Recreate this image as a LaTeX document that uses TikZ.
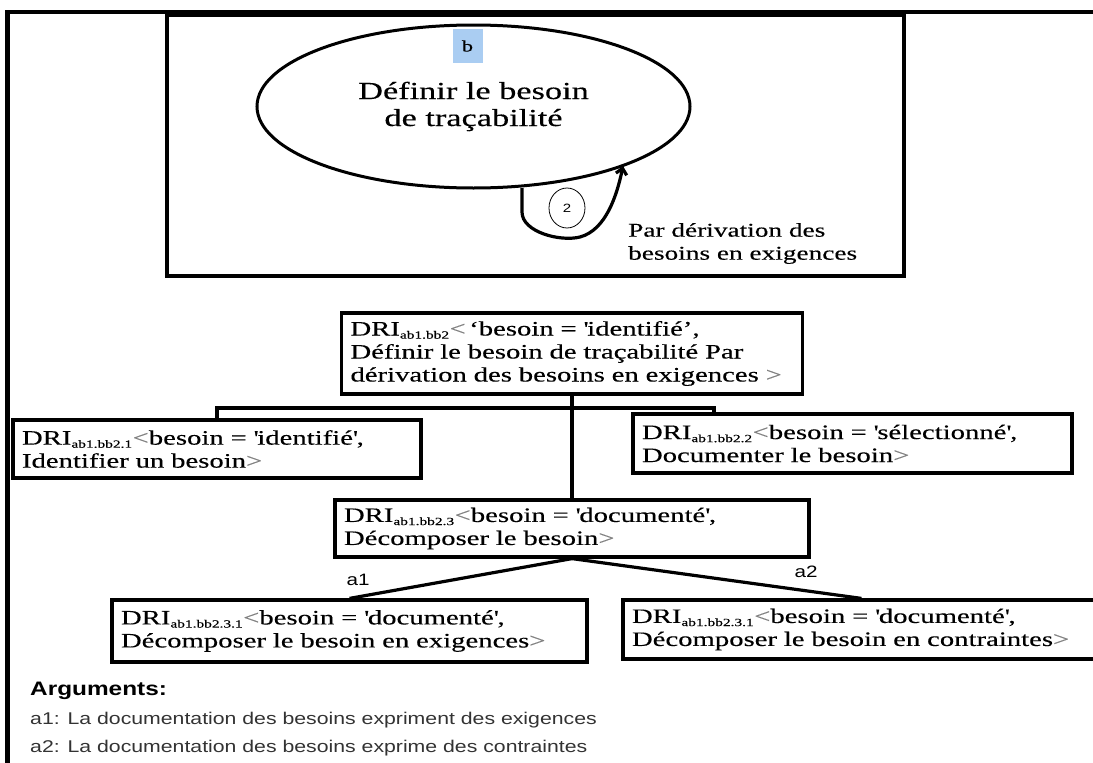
\documentclass[tikz,border=0pt]{standalone}
\usepackage{fontspec}
\newfontfamily\drifont[FakeStretch=1.4,FakeBold=0.3]{Liberation Serif}
\newfontfamily\argfont[FakeStretch=1.25]{Liberation Sans}
\usetikzlibrary{shapes.geometric,arrows.meta}
\definecolor{tagblue}{RGB}{170,205,242}
\newcommand\lchev{\textcolor{black!50}{<}}
\newcommand\rchev{\textcolor{black!50}{>}}
\newcommand\dsub[1]{\textsubscript{\fontsize{11}{11}\selectfont #1}}

\begin{document}
\begin{tikzpicture}[x=1pt,y=-1pt,
  dri/.style={draw,line width=3.2pt,rectangle,align=left,inner xsep=9pt,inner ysep=4pt,
    font=\drifont\fontsize{20.5}{23}\selectfont},
  e/.style={line width=3.2pt},
  lab/.style={font=\argfont\fontsize{16.5}{18}\selectfont,inner sep=1pt}]
  \useasboundingbox (0,0) rectangle (1093,763);
  \clip (0,0) rectangle (1093,763);
  % outer frame, open on right and bottom
  \draw[line width=4.5pt] (5,12) -- (1093,12);
  \draw[line width=4.5pt] (7.5,10) -- (7.5,763);
  % goal panel
  \draw[line width=3.6pt] (167,15) rectangle (904,276);
  \node[ellipse,draw,line width=3pt,minimum width=433pt,minimum height=163pt,inner sep=0pt,align=center,
    font=\drifont\fontsize{24.5}{27}\selectfont] (goal) at (473.5,106.5) {Définir le besoin\\de traçabilité};
  \node[fill=tagblue,minimum width=30pt,minimum height=34pt,inner sep=0pt,
    font=\drifont\fontsize{16}{18}\selectfont] (tag) at (467.5,46) {b};
  \node[ellipse,draw,line width=0.8pt,minimum width=36pt,minimum height=40pt,inner sep=0pt,
    font=\argfont\fontsize{12}{13}\selectfont] (two) at (567,208) {2};
  \coordinate (ls) at (522,188);
  \coordinate (le) at (623,166);
  \draw[line width=3.2pt,-{Straight Barb[length=6pt,width=11pt]}] (ls) -- ++(0,24)
    .. controls +(0,20) and +(-20,5) .. ++(58,25)
    .. controls +(26,-7) and +(-6,29) .. (le);
  \node[anchor=west,align=left,inner sep=0pt,font=\drifont\fontsize{19.5}{23}\selectfont] (deriv)
    at (628,243.5) {Par dérivation des\\besoins en exigences};
  % DRI tree
  \node[dri,text width=443pt,minimum height=81pt] (top) at (572,353.5)
    {DRI\dsub{ab1.bb2}\lchev\,‘besoin = \textquotesingle identifié’,\\Définir le besoin de traçabilité Par\\dérivation des besoins en exigences \rchev};
  \node[dri,text width=390pt,minimum height=58pt] (d21) at (217,449)
    {DRI\dsub{ab1.bb2.1}\lchev besoin = \textquotesingle identifié\textquotesingle,\\Identifier un besoin\rchev};
  \node[dri,text width=421pt,minimum height=59pt] (d22) at (852.5,443.5)
    {DRI\dsub{ab1.bb2.2}\lchev besoin = \textquotesingle sélectionné\textquotesingle,\\Documenter le besoin\rchev};
  \node[dri,text width=456pt,minimum height=57pt] (d23) at (572,528.5)
    {DRI\dsub{ab1.bb2.3}\lchev besoin = \textquotesingle documenté\textquotesingle,\\Décomposer le besoin\rchev};
  \node[dri,text width=457pt,minimum height=62pt] (d231) at (349.5,631)
    {DRI\dsub{ab1.bb2.3.1}\lchev besoin = \textquotesingle documenté\textquotesingle,\\Décomposer le besoin en exigences\rchev};
  \node[dri,text width=459pt,minimum height=59pt] (d232) at (861.5,629.5)
    {DRI\dsub{ab1.bb2.3.1}\lchev besoin = \textquotesingle documenté\textquotesingle,\\Décomposer le besoin en contraintes\rchev};
  \coordinate (rd) at (714,408);
  \draw[e] (top.south) -- (d23.north);
  \draw[e] (d21.north) |- (rd) -- (rd |- d22.north);
  \draw[e] (d23.south) -- (d231.north);
  \draw[e] (d23.south) -- (d232.north);
  \node[lab] (a1) at (358,580) {a1};
  \node[lab] (a2) at (806,572) {a2};
  % arguments
  \node[anchor=west,inner sep=0pt,font=\argfont\bfseries\fontsize{19.5}{22}\selectfont] (args) at (30,691) {Arguments:};
  \foreach \k/\yy/\txt in {1/720/{La documentation des besoins expriment des exigences},
                           2/748/{La documentation des besoins exprime des contraintes}}
    \node[anchor=west,inner sep=0pt,text=black!80,font=\argfont\fontsize{17}{18}\selectfont] (arg\k) at (30,\yy) {a\k: \txt};
\end{tikzpicture}
\end{document}
